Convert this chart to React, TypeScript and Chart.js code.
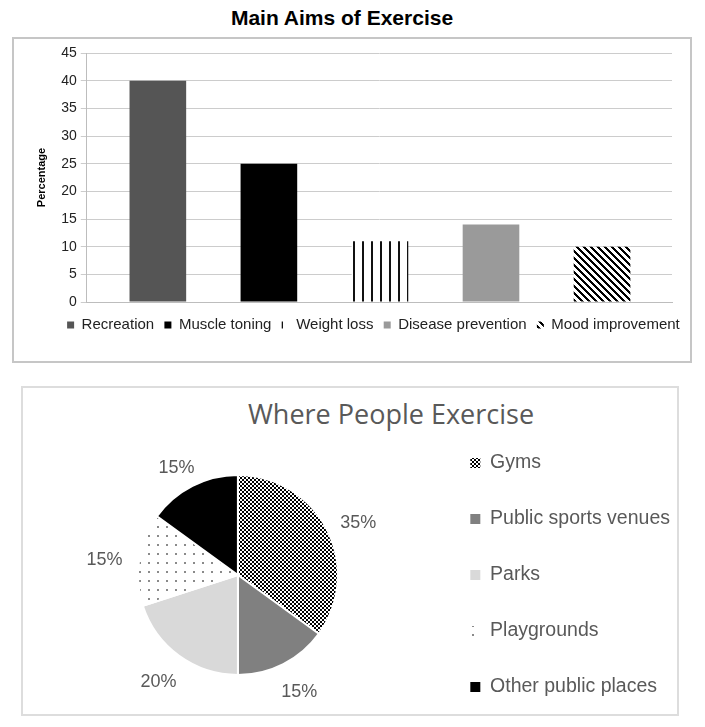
import React, { useEffect, useRef } from "react";
import { Chart, registerables } from "chart.js";

Chart.register(...registerables);

// ---------- data ----------
const aimTitle = "Main Aims of Exercise";
const aimAxisTitle = "Percentage";
const aimCategories = ["Recreation", "Muscle toning", "Weight loss", "Disease prevention", "Mood improvement"];
const aimValues = [40, 25, 11, 14, 10];
const aimAxisMax = 45;
const aimAxisStep = 5;

const placeTitle = "Where People Exercise";
const placeCategories = ["Gyms", "Public sports venues", "Parks", "Playgrounds", "Other public places"];
const placeValues = [35, 15, 20, 15, 15];

// ---------- styles ----------
const NARROW = "'Liberation Sans Narrow', 'Arial Narrow', 'Liberation Sans', Arial, sans-serif";
const SANS = "'Liberation Sans', Arial, sans-serif";

function pixelPattern(w: number, h: number, fn: (x: number, y: number) => string) {
  const c = document.createElement("canvas");
  c.width = w;
  c.height = h;
  const g = c.getContext("2d")!;
  for (let y = 0; y < h; y++) {
    for (let x = 0; x < w; x++) {
      g.fillStyle = fn(x, y);
      g.fillRect(x, y, 1, 1);
    }
  }
  return g.createPattern(c, "repeat")!;
}

const makeVertStripes = () => pixelPattern(9, 1, (x) => (x === 2 || x === 3 ? "#111111" : "#ffffff"));
const makeDiagStripes = () =>
  pixelPattern(7, 7, (x, y) => ((((x - y) % 7) + 7) % 7 < 3 ? "#000000" : "#ffffff"));
const makeGymDots = () =>
  pixelPattern(4, 4, (x, y) => ((Math.floor(x / 2) + Math.floor(y / 2)) % 2 === 0 ? "#000000" : "#ffffff"));
const makePlayDots = () => pixelPattern(9, 9, (x, y) => (x >= 4 && x <= 5 && y >= 4 && y <= 5 ? "#8a8a8a" : "#ffffff"));

function AimsChart() {
  const ref = useRef<HTMLCanvasElement>(null);
  useEffect(() => {
    const colors: any[] = ["#555555", "#000000", makeVertStripes(), "#9a9a9a", makeDiagStripes()];
    const points = aimValues.map((v, i) => ({ x: i, y: v }));
    const chart = new Chart(ref.current!, {
      type: "bar",
      data: {
        labels: aimCategories,
        datasets: [
          {
            label: aimAxisTitle,
            data: points as any,
            backgroundColor: colors,
            borderWidth: 0,
            barPercentage: 0.51,
            categoryPercentage: 1,
          },
        ],
      },
      options: {
        responsive: false,
        animation: false,
        devicePixelRatio: 1,
        layout: { padding: { left: 12, right: 15, top: 53, bottom: 22.5 } },
        plugins: {
          title: { display: false },
          legend: {
            position: "bottom",
            align: "end",
            labels: {
              boxWidth: 7,
              boxHeight: 7,
              padding: 10.25,
              color: "#222222",
              font: { family: NARROW, size: 15 },
              generateLabels: () =>
                aimCategories.map((c, i) => ({
                  text: c,
                  fillStyle: colors[i],
                  strokeStyle: colors[i],
                  lineWidth: 0,
                  hidden: false,
                  index: i,
                  datasetIndex: 0,
                  fontColor: "#222222",
                })),
            },
          },
          tooltip: { enabled: false },
        },
        scales: {
          x: {
            type: "linear",
            offset: false,
            min: -0.64,
            max: 4.63,
            afterBuildTicks: (scale: any) => {
              scale.ticks = aimCategories.map((_, i) => ({ value: i }));
            },
            grid: { display: false, offset: false, tickLength: 5.25 },
            border: { display: true, color: "#bdbdbd" },
            ticks: { display: false },
          },
          y: {
            min: 0,
            max: aimAxisMax,
            ticks: {
              stepSize: aimAxisStep,
              color: "#222222",
              padding: 4,
              font: { family: NARROW, size: 14 },
            },
            grid: { color: "#cccccc", tickLength: 6 },
            border: { display: true, color: "#bdbdbd" },
            title: {
              display: true,
              text: aimAxisTitle,
              color: "#000000",
              font: { family: NARROW, size: 11, weight: "bold" },
              padding: { top: 23, bottom: 9 },
            },
          },
          yRight: {
            type: "linear",
            position: "right",
            display: true,
            grid: { display: false, drawTicks: true, tickLength: 18 },
            border: { display: false },
            ticks: { display: false },
          },
        },
      },
    });
    return () => chart.destroy();
  }, []);
  return (
    <canvas
      ref={ref}
      width={705}
      height={365}
      style={{ position: "absolute", left: 0, top: 0, width: 705, height: 365 }}
    />
  );
}

const pieLabelPlugin = {
  id: "pieOuterLabels",
  afterDatasetsDraw(chart: any) {
    const meta = chart.getDatasetMeta(0);
    const ctx = chart.ctx;
    ctx.save();
    ctx.font = `18px ${SANS}`;
    ctx.fillStyle = "#595959";
    ctx.textAlign = "center";
    ctx.textBaseline = "middle";
    meta.data.forEach((arc: any, i: number) => {
      const p = arc.getProps(["x", "y", "startAngle", "endAngle", "outerRadius"], true);
      const mid = (p.startAngle + p.endAngle) / 2;
      const text = `${placeValues[i]}%`;
      const hw = ctx.measureText(text).width / 2;
      const hh = 9;
      const d = p.outerRadius + 17;
      const cx = p.x + Math.cos(mid) * (d + hw);
      const cy = p.y + Math.sin(mid) * (d + hh) + 5;
      ctx.fillText(text, cx, cy);
    });
    ctx.restore();
  },
};

function PlacesChart() {
  const ref = useRef<HTMLCanvasElement>(null);
  useEffect(() => {
    const colors: any[] = [makeGymDots(), "#808080", "#d9d9d9", makePlayDots(), "#000000"];
    const baseLabels = (Chart as any).overrides.pie.plugins.legend.labels.generateLabels;
    const chart = new Chart(ref.current!, {
      type: "pie",
      data: {
        labels: placeCategories,
        datasets: [
          {
            data: placeValues,
            backgroundColor: colors,
            borderColor: "#ffffff",
            borderWidth: 2,
            radius: 100,
          } as any,
        ],
      },
      options: {
        responsive: false,
        animation: false,
        devicePixelRatio: 1,
        layout: { padding: { left: 42, right: 0, top: 0, bottom: 0 } },
        plugins: {
          legend: {
            position: "right",
            labels: {
              boxWidth: 10,
              boxHeight: 10,
              padding: 36.5,
              color: "#595959",
              font: { family: SANS, size: 19.5 },
              generateLabels: (c: any) =>
                baseLabels(c).map((item: any) => ({ ...item, lineWidth: 0, strokeStyle: "rgba(0,0,0,0)" })),
            },
          },
          tooltip: { enabled: false },
        },
      },
      plugins: [pieLabelPlugin],
    });
    return () => chart.destroy();
  }, []);
  return (
    <canvas
      ref={ref}
      width={680}
      height={340}
      style={{ position: "absolute", left: 0, top: 17, width: 680, height: 340 }}
    />
  );
}

const titleBase: React.CSSProperties = {
  position: "absolute",
  transform: "translateX(-50%)",
  whiteSpace: "nowrap",
};

export default function App() {
  return (
    <div style={{ position: "absolute", left: 0, top: 0, width: 705, height: 727, overflow: "hidden", background: "#ffffff" }}>
      <div
        style={{
          position: "absolute",
          left: 12,
          top: 37,
          width: 680,
          height: 326,
          border: "2px solid #c6c6c6",
          boxSizing: "border-box",
        }}
      />
      <div
        style={{
          position: "absolute",
          left: 21,
          top: 386,
          width: 658,
          height: 330,
          border: "2px solid #dddddd",
          boxSizing: "border-box",
        }}
      />
      <div
        style={{
          ...titleBase,
          left: 342,
          top: 5,
          fontFamily: NARROW,
          fontWeight: "bold",
          fontSize: 21,
          lineHeight: "26px",
          color: "#000000",
        }}
      >
        {aimTitle}
      </div>
      <AimsChart />
      <div
        style={{
          ...titleBase,
          left: 391,
          top: 397,
          fontFamily: "'Open Sans', 'Noto Sans', sans-serif",
          fontSize: 27,
          lineHeight: "34px",
          color: "#595959",
        }}
      >
        {placeTitle}
      </div>
      <div style={{ position: "absolute", left: 0, top: 388, width: 705, height: 326, overflow: "hidden" }}>
        <PlacesChart />
      </div>
    </div>
  );
}
